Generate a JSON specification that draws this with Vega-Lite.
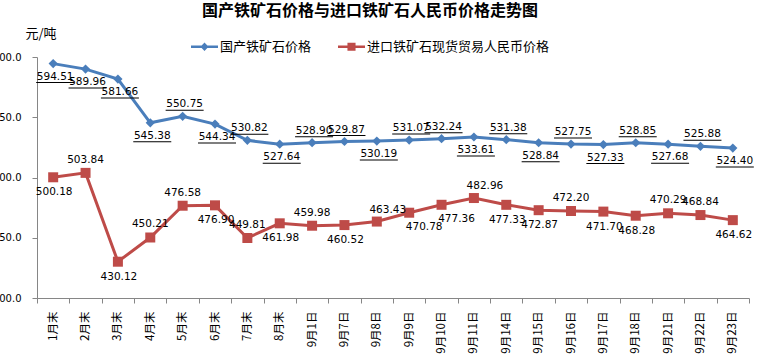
{
  "$schema": "https://vega.github.io/schema/vega-lite/v6.json",
  "autosize": {"type": "none"},
  "width": 712,
  "height": 241,
  "padding": {"left": 37, "top": 57, "right": 12, "bottom": 63},
  "background": "white",
  "config": {"view": {"stroke": null}},
  "title": {"text": "国产铁矿石价格与进口铁矿石人民币价格走势图", "font": "Noto Sans CJK SC", "fontSize": 16, "fontWeight": "bold", "color": "#000000", "anchor": "middle", "frame": "bounds", "baseline": "middle", "offset": 0, "dx": -3},
  "data": {"values": [
    {"d": "1月末", "s": "国产铁矿石价格", "v": 594.51},
    {"d": "2月末", "s": "国产铁矿石价格", "v": 589.96},
    {"d": "3月末", "s": "国产铁矿石价格", "v": 581.66},
    {"d": "4月末", "s": "国产铁矿石价格", "v": 545.38},
    {"d": "5月末", "s": "国产铁矿石价格", "v": 550.75},
    {"d": "6月末", "s": "国产铁矿石价格", "v": 544.34},
    {"d": "7月末", "s": "国产铁矿石价格", "v": 530.82},
    {"d": "8月末", "s": "国产铁矿石价格", "v": 527.64},
    {"d": "9月1日", "s": "国产铁矿石价格", "v": 528.90},
    {"d": "9月7日", "s": "国产铁矿石价格", "v": 529.87},
    {"d": "9月8日", "s": "国产铁矿石价格", "v": 530.19},
    {"d": "9月9日", "s": "国产铁矿石价格", "v": 531.07},
    {"d": "9月10日", "s": "国产铁矿石价格", "v": 532.24},
    {"d": "9月11日", "s": "国产铁矿石价格", "v": 533.61},
    {"d": "9月14日", "s": "国产铁矿石价格", "v": 531.38},
    {"d": "9月15日", "s": "国产铁矿石价格", "v": 528.84},
    {"d": "9月16日", "s": "国产铁矿石价格", "v": 527.75},
    {"d": "9月17日", "s": "国产铁矿石价格", "v": 527.33},
    {"d": "9月18日", "s": "国产铁矿石价格", "v": 528.85},
    {"d": "9月21日", "s": "国产铁矿石价格", "v": 527.68},
    {"d": "9月22日", "s": "国产铁矿石价格", "v": 525.88},
    {"d": "9月23日", "s": "国产铁矿石价格", "v": 524.40},
    {"d": "1月末", "s": "进口铁矿石现货贸易人民币价格", "v": 500.18},
    {"d": "2月末", "s": "进口铁矿石现货贸易人民币价格", "v": 503.84},
    {"d": "3月末", "s": "进口铁矿石现货贸易人民币价格", "v": 430.12},
    {"d": "4月末", "s": "进口铁矿石现货贸易人民币价格", "v": 450.21},
    {"d": "5月末", "s": "进口铁矿石现货贸易人民币价格", "v": 476.58},
    {"d": "6月末", "s": "进口铁矿石现货贸易人民币价格", "v": 476.90},
    {"d": "7月末", "s": "进口铁矿石现货贸易人民币价格", "v": 449.81},
    {"d": "8月末", "s": "进口铁矿石现货贸易人民币价格", "v": 461.98},
    {"d": "9月1日", "s": "进口铁矿石现货贸易人民币价格", "v": 459.98},
    {"d": "9月7日", "s": "进口铁矿石现货贸易人民币价格", "v": 460.52},
    {"d": "9月8日", "s": "进口铁矿石现货贸易人民币价格", "v": 463.43},
    {"d": "9月9日", "s": "进口铁矿石现货贸易人民币价格", "v": 470.78},
    {"d": "9月10日", "s": "进口铁矿石现货贸易人民币价格", "v": 477.36},
    {"d": "9月11日", "s": "进口铁矿石现货贸易人民币价格", "v": 482.96},
    {"d": "9月14日", "s": "进口铁矿石现货贸易人民币价格", "v": 477.33},
    {"d": "9月15日", "s": "进口铁矿石现货贸易人民币价格", "v": 472.87},
    {"d": "9月16日", "s": "进口铁矿石现货贸易人民币价格", "v": 472.20},
    {"d": "9月17日", "s": "进口铁矿石现货贸易人民币价格", "v": 471.70},
    {"d": "9月18日", "s": "进口铁矿石现货贸易人民币价格", "v": 468.28},
    {"d": "9月21日", "s": "进口铁矿石现货贸易人民币价格", "v": 470.29},
    {"d": "9月22日", "s": "进口铁矿石现货贸易人民币价格", "v": 468.84},
    {"d": "9月23日", "s": "进口铁矿石现货贸易人民币价格", "v": 464.62}
  ]},
  "encoding": {
    "x": {"field": "d", "type": "nominal", "title": null,
      "scale": {"type": "band", "paddingInner": 0, "paddingOuter": 0, "domain": ["1月末","2月末","3月末","4月末","5月末","6月末","7月末","8月末","9月1日","9月7日","9月8日","9月9日","9月10日","9月11日","9月14日","9月15日","9月16日","9月17日","9月18日","9月21日","9月22日","9月23日"]},
      "axis": {"labelAngle": 270, "labelAlign": "right", "labelBaseline": "middle", "labelFont": "Noto Sans CJK SC", "labelFontSize": 11.5, "labelColor": "#000000", "labelPadding": 8, "tickBand": "extent", "tickSize": 5, "tickColor": "#868686", "domainColor": "#868686", "grid": false, "labelOverlap": false}},
    "y": {"field": "v", "type": "quantitative", "title": "元/吨",
      "scale": {"domain": [400, 600], "nice": false, "zero": false},
      "axis": {"values": [400, 450, 500, 550, 600], "format": ".1f", "grid": false, "labelFont": "DejaVu Sans", "labelFontSize": 10, "labelColor": "#000000", "labelPadding": 11, "tickSize": 5, "tickColor": "#868686", "domainColor": "#868686", "titleAngle": 0, "titleX": -12, "titleY": -24, "titleAlign": "left", "titleBaseline": "middle", "titleFont": "Noto Sans CJK SC", "titleFontSize": 13, "titleFontWeight": "normal", "titleColor": "#000000"}}
  },
  "layer": [
    {"transform": [{"filter": {"field": "s", "equal": "国产铁矿石价格"}}],
     "mark": {"type": "line", "color": "#4A7EBB", "strokeWidth": 3}},
    {"transform": [{"filter": {"field": "s", "equal": "进口铁矿石现货贸易人民币价格"}}],
     "mark": {"type": "line", "color": "#BE4B48", "strokeWidth": 3}},
    {"transform": [{"filter": {"field": "s", "equal": "国产铁矿石价格"}}],
     "mark": {"type": "point", "shape": "diamond", "filled": true, "color": "#4A7EBB", "size": 85, "opacity": 1}},
    {"transform": [{"filter": {"field": "s", "equal": "进口铁矿石现货贸易人民币价格"}}],
     "mark": {"type": "point", "shape": "square", "filled": true, "color": "#BE4B48", "size": 100, "opacity": 1}},
    {"mark": {"type": "point", "filled": true, "opacity": 0},
     "encoding": {
       "color": {"field": "s", "type": "nominal", "scale": {"domain": ["国产铁矿石价格", "进口铁矿石现货贸易人民币价格"], "range": ["#4A7EBB", "#BE4B48"]},
         "legend": {"title": null, "orient": "none", "legendX": 154, "legendY": -24, "direction": "horizontal", "padding": 0, "labelFont": "Noto Sans CJK SC", "labelFontSize": 13, "labelColor": "#000000", "labelOffset": 2, "labelLimit": 400, "columnPadding": 26, "symbolSize": 729, "symbolOpacity": 1, "symbolStrokeWidth": 0}},
       "shape": {"field": "s", "type": "nominal", "scale": {"domain": ["国产铁矿石价格", "进口铁矿石现货贸易人民币价格"], "range": ["M-1,-0.1H1V0.1H-1Z M0,-0.32L0.3,0L0,0.32L-0.3,0Z", "M-1,-0.1H1V0.1H-1Z M-0.3,-0.3H0.3V0.3H-0.3Z"]},
         "legend": {"title": null, "orient": "none", "legendX": 154, "legendY": -24, "direction": "horizontal", "padding": 0, "labelFont": "Noto Sans CJK SC", "labelFontSize": 13, "labelColor": "#000000", "labelOffset": 2, "labelLimit": 400, "columnPadding": 26, "symbolSize": 729, "symbolOpacity": 1, "symbolStrokeWidth": 0}}
     }},
    {"transform": [{"filter": {"and": [{"field": "s", "equal": "国产铁矿石价格"}, {"field": "d", "oneOf": ["5月末","7月末","9月1日","9月7日","9月9日","9月10日","9月14日","9月16日","9月18日","9月22日"]}]}}],
     "mark": {"type": "text", "font": "DejaVu Sans", "fontSize": 10.5, "color": "#000000", "baseline": "middle", "dx": 2, "dy": -12},
     "encoding": {"text": {"field": "v", "type": "quantitative", "format": ".2f"}}},
    {"transform": [{"filter": {"and": [{"field": "s", "equal": "国产铁矿石价格"}, {"not": {"field": "d", "oneOf": ["5月末","7月末","9月1日","9月7日","9月9日","9月10日","9月14日","9月16日","9月18日","9月22日"]}}]}}],
     "mark": {"type": "text", "font": "DejaVu Sans", "fontSize": 10.5, "color": "#000000", "baseline": "middle", "dx": 2, "dy": 13},
     "encoding": {"text": {"field": "v", "type": "quantitative", "format": ".2f"}}},
    {"transform": [{"filter": {"and": [{"field": "s", "equal": "国产铁矿石价格"}, {"field": "d", "oneOf": ["5月末","7月末","9月1日","9月7日","9月9日","9月10日","9月14日","9月16日","9月18日","9月22日"]}]}}],
     "mark": {"type": "tick", "color": "#000000", "size": 38, "thickness": 1, "orient": "horizontal", "xOffset": 2, "yOffset": -6, "opacity": 1}},
    {"transform": [{"filter": {"and": [{"field": "s", "equal": "国产铁矿石价格"}, {"not": {"field": "d", "oneOf": ["5月末","7月末","9月1日","9月7日","9月9日","9月10日","9月14日","9月16日","9月18日","9月22日"]}}]}}],
     "mark": {"type": "tick", "color": "#000000", "size": 38, "thickness": 1, "orient": "horizontal", "xOffset": 2, "yOffset": 19, "opacity": 1}},
    {"transform": [{"filter": {"and": [{"field": "s", "equal": "进口铁矿石现货贸易人民币价格"}, {"field": "d", "oneOf": ["2月末","4月末","5月末","7月末","9月1日","9月16日","9月21日","9月22日"]}]}}],
     "mark": {"type": "text", "font": "DejaVu Sans", "fontSize": 10.5, "color": "#000000", "baseline": "middle", "dx": 0, "dy": -13},
     "encoding": {"text": {"field": "v", "type": "quantitative", "format": ".2f"}}},
    {"transform": [{"filter": {"and": [{"field": "s", "equal": "进口铁矿石现货贸易人民币价格"}, {"field": "d", "oneOf": ["9月8日","9月11日"]}]}}],
     "mark": {"type": "text", "font": "DejaVu Sans", "fontSize": 10.5, "color": "#000000", "baseline": "middle", "dx": 11, "dy": -12},
     "encoding": {"text": {"field": "v", "type": "quantitative", "format": ".2f"}}},
    {"transform": [{"filter": {"and": [{"field": "s", "equal": "进口铁矿石现货贸易人民币价格"}, {"field": "d", "oneOf": ["9月9日","9月10日"]}]}}],
     "mark": {"type": "text", "font": "DejaVu Sans", "fontSize": 10.5, "color": "#000000", "baseline": "middle", "dx": 15, "dy": 14},
     "encoding": {"text": {"field": "v", "type": "quantitative", "format": ".2f"}}},
    {"transform": [{"filter": {"and": [{"field": "s", "equal": "进口铁矿石现货贸易人民币价格"}, {"not": {"field": "d", "oneOf": ["2月末","4月末","5月末","7月末","9月1日","9月16日","9月21日","9月22日","9月8日","9月11日","9月9日","9月10日"]}}]}}],
     "mark": {"type": "text", "font": "DejaVu Sans", "fontSize": 10.5, "color": "#000000", "baseline": "middle", "dx": 1, "dy": 15},
     "encoding": {"text": {"field": "v", "type": "quantitative", "format": ".2f"}}}
  ]
}
